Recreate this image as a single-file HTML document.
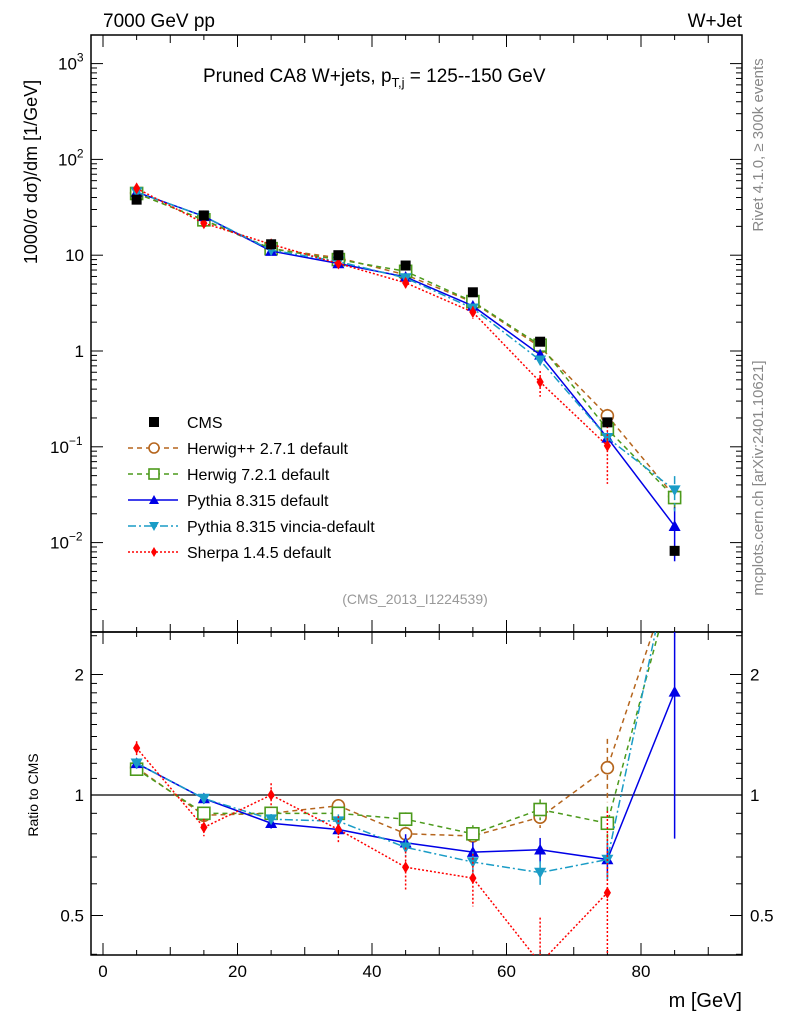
<!DOCTYPE html>
<html><head><meta charset="utf-8"><style>
body{margin:0;background:#fff}
svg{display:block;font-family:"Liberation Sans",sans-serif}
</style></head><body>
<svg id="c" width="786" height="1024" viewBox="0 0 786 1024"></svg>
<script>
const xs=[5,15,25,35,45,55,65,75,85];
const cms=[38,26,13,10,7.8,4.1,1.25,0.18,0.0082];
const rHpp=[1.17,0.89,0.9,0.94,0.8,0.79,0.88,1.17,3.7];
const rH7=[1.16,0.9,0.9,0.9,0.87,0.8,0.92,0.85,3.6];
const rPy=[1.2,0.98,0.85,0.82,0.76,0.72,0.73,0.69,1.81];
const rVin=[1.2,0.98,0.87,0.86,0.74,0.68,0.64,0.69,4.3];
const rSh=[1.31,0.83,1.0,0.82,0.66,0.62,0.38,0.57,null];
const errPy=[0.03,0.03,0.03,0.03,0.05,0.06,0.07,0.1,0.57];
const errSh=[0.04,0.05,0.07,0.08,0.12,0.15,0.3,0.6,0];
const xTicks=[0,20,40,60,80];
const series=[
 {name:"Herwig++ 2.7.1 default",r:rHpp,c:"#b5651d",dash:"5,4",m:"circ",err:[0.03,0.03,0.03,0.04,0.04,0.05,0.06,0.18,0.3]},
 {name:"Herwig 7.2.1 default",r:rH7,c:"#4c9a1c",dash:"5,4",m:"sq",err:[0.03,0.03,0.03,0.04,0.04,0.05,0.06,0.1,0.3]},
 {name:"Pythia 8.315 default",r:rPy,c:"#0000e6",dash:"",m:"tri",err:errPy},
 {name:"Pythia 8.315 vincia-default",r:rVin,c:"#1a9cc6",dash:"8,3,2,3",m:"itri",err:[0.03,0.03,0.03,0.04,0.05,0.06,0.07,0.12,0.4]},
 {name:"Sherpa 1.4.5 default",r:rSh,c:"#ff0000",dash:"2,2",m:"dia",err:errSh}
];
const L=91,R=742,T=35,M=632,B=955;
const X=v=>103+v*6.725;
const YM=v=>351-Math.log10(v)*95.8;
const YR=v=>795-Math.log2(v)*120.5;
const svg=document.getElementById('c');
const NS="http://www.w3.org/2000/svg";
function el(t,a,p){const e=document.createElementNS(NS,t);for(const k in a)e.setAttribute(k,a[k]);(p||svg).appendChild(e);return e;}
function txt(s,a,name){const e=el('text',a);e.textContent=s;return e;}
const clipD=el('defs',{});
const c1=el('clipPath',{id:'cm'},clipD);el('rect',{x:L,y:T,width:R-L,height:M-T},c1);
const c2=el('clipPath',{id:'cr'},clipD);el('rect',{x:L,y:M,width:R-L,height:B-M},c2);
const f1=el('rect',{x:L,y:T,width:R-L,height:M-T,fill:'none',stroke:'#000','stroke-width':1.5});


const f2=el('rect',{x:L,y:M,width:R-L,height:B-M,fill:'none',stroke:'#000','stroke-width':1.5});


for(let v=0;v<=90;v+=5){const big=v%20==0,mid=v%10==0;const l=big?12:(mid?8:5);
 for(const [yt,yb] of [[T,M],[M,B]]){el('line',{x1:X(v),x2:X(v),y1:yb,y2:yb-l,stroke:'#000'});el('line',{x1:X(v),x2:X(v),y1:yt,y2:yt+l,stroke:'#000'});}}
xTicks.forEach(v=>{txt(v,{x:X(v),y:977,'font-size':17,'text-anchor':'middle'},'x-tick-label');});
txt('m [GeV]',{x:742,y:1007,'font-size':20,'text-anchor':'end'},'x-axis-title');
for(let d=-3;d<=3;d++)for(let k=1;k<10;k++){const v=k*Math.pow(10,d);const y=YM(v);if(y<T||y>M)continue;const l=k==1?12:6;
 el('line',{x1:L,x2:L+l,y1:y,y2:y,stroke:'#000'});el('line',{x1:R,x2:R-l,y1:y,y2:y,stroke:'#000'});}
const yl=[[1000,'10','3'],[100,'10','2'],[10,'10',''],[1,'1',''],[0.1,'10','−1'],[0.01,'10','−2']];
yl.forEach(([v,b,e])=>{const t=txt('',{x:84,y:YM(v)+6,'font-size':17,'text-anchor':'end'},'y-tick-label');
 t.textContent=b; if(e){const s=document.createElementNS(NS,'tspan');s.setAttribute('dy','-8');s.setAttribute('font-size','12');s.textContent=e;t.appendChild(s);
 t.removeAttribute('text-anchor');t.setAttribute('x',e.length>1?50:58);}});
[0.4,0.5,0.6,0.7,0.8,0.9,1,1.1,1.2,1.3,1.4,1.5,1.6,1.7,1.8,1.9,2,2.5].forEach(v=>{const y=YR(v);if(y<M||y>B)return;const l=(v==0.5||v==1||v==2)?12:6;
 el('line',{x1:L,x2:L+l,y1:y,y2:y,stroke:'#000'});el('line',{x1:R,x2:R-l,y1:y,y2:y,stroke:'#000'});});
[[0.5,'0.5'],[1,'1'],[2,'2']].forEach(([v,s])=>{txt(s,{x:84,y:YR(v)+6,'font-size':17,'text-anchor':'end'},'ratio-tick-label-left');txt(s,{x:750,y:YR(v)+6,'font-size':17},'ratio-tick-label-right');});
const one=el('line',{x1:L,x2:R,y1:YR(1),y2:YR(1),stroke:'#000','stroke-width':1.3});


txt('7000 GeV pp',{x:103,y:27,'font-size':19},'top-left-label');
txt('W+Jet',{x:742,y:27,'font-size':19,'text-anchor':'end'},'top-right-label');
const ti=txt('Pruned CA8 W+jets, p',{x:203,y:82,'font-size':19},'plot-title');
const ts=document.createElementNS(NS,'tspan');ts.setAttribute('font-size','13');ts.setAttribute('dy','5');ts.textContent='T,j';ti.appendChild(ts);
const ts2=document.createElementNS(NS,'tspan');ts2.setAttribute('dy','-5');ts2.textContent=' = 125--150 GeV';ti.appendChild(ts2);
txt('1000/σ   dσ)/dm [1/GeV]',{x:0,y:0,'font-size':18,'text-anchor':'middle',transform:'translate(37,172) rotate(-90)'},'y-axis-title');
txt('Ratio to CMS',{x:0,y:0,'font-size':14,'text-anchor':'middle',transform:'translate(38,795) rotate(-90)'},'ratio-axis-title');
txt('Rivet 4.1.0, ≥ 300k events',{x:0,y:0,'font-size':15,fill:'#888','text-anchor':'middle',transform:'translate(763,145) rotate(-90)'},'rivet-label');
txt('mcplots.cern.ch [arXiv:2401.10621]',{x:0,y:0,'font-size':15,fill:'#888','text-anchor':'middle',transform:'translate(763,478) rotate(-90)'},'mcplots-label');
txt('(CMS_2013_I1224539)',{x:415,y:604,'font-size':14,fill:'#999','text-anchor':'middle'},'analysis-id');
function marker(g,m,x,y,c,s){s=s||6;
 if(m=='circ')el('circle',{cx:x,cy:y,r:s,fill:'#fff',stroke:c,'stroke-width':1.6},g);
 else if(m=='sq')el('rect',{x:x-s,y:y-s,width:2*s,height:2*s,fill:'#fff',stroke:c,'stroke-width':1.6},g);
 else if(m=='tri')el('polygon',{points:`${x-s},${y+s*0.8} ${x+s},${y+s*0.8} ${x},${y-s}`,fill:c},g);
 else if(m=='itri')el('polygon',{points:`${x-s},${y-s*0.8} ${x+s},${y-s*0.8} ${x},${y+s}`,fill:c},g);
 else if(m=='dia')el('polygon',{points:`${x},${y-s} ${x+s*0.6},${y} ${x},${y+s} ${x-s*0.6},${y}`,fill:c},g);
 else if(m=='sqf')el('rect',{x:x-s,y:y-s,width:2*s,height:2*s,fill:c},g);}
series.forEach((s,si)=>{
 for(const [clip,Y,vals] of [['cm',YM,xs.map((x,i)=>s.r[i]==null?null:s.r[i]*cms[i])],['cr',YR,s.r]]){
  const g=el('g',{'clip-path':`url(#${clip})`});
  
  
  let pts=[];xs.forEach((x,i)=>{if(vals[i]!=null)pts.push(X(x)+','+Y(vals[i]));});
  const a={points:pts.join(' '),fill:'none',stroke:s.c,'stroke-width':1.5};if(s.dash)a['stroke-dasharray']=s.dash;
  el('polyline',a,g);
  xs.forEach((x,i)=>{if(vals[i]==null)return;const e=s.err[i];
   if(e>0){const ea={x1:X(x),x2:X(x),y1:Y(vals[i]*(1+e)),y2:Y(vals[i]*Math.max(0.05,1-e)),stroke:s.c,'stroke-width':1.5};if(s.dash)ea['stroke-dasharray']=s.dash;el('line',ea,g);}
   marker(g,s.m,X(x),Y(vals[i]),s.c);});
 }
});
const gc=el('g',{'clip-path':'url(#cm)'});


xs.forEach((x,i)=>marker(gc,'sqf',X(x),YM(cms[i]),'#000',5));
const lg=el('g',{});


const ly0=422;
txt('CMS',{x:187,y:ly0+6,'font-size':16},'legend-entry');
marker(lg,'sqf',154,ly0,'#000',5);
series.forEach((s,i)=>{const y=ly0+26*(i+1);const a={x1:128,x2:178,y1:y,y2:y,stroke:s.c,'stroke-width':1.5};if(s.dash)a['stroke-dasharray']=s.dash;el('line',a,lg);
 marker(lg,s.m,154,y,s.c,5);txt(s.name,{x:187,y:y+6,'font-size':16},'legend-entry');});
</script>
</body></html>
